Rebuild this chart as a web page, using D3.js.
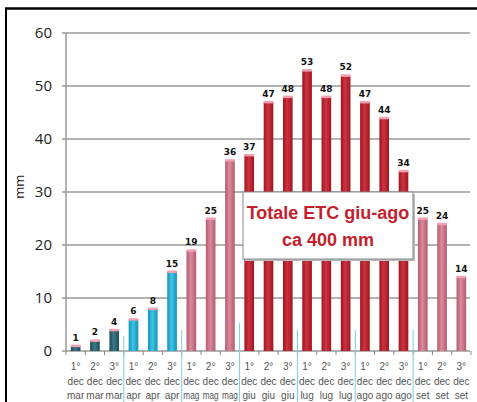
<!DOCTYPE html>
<html>
<head>
<meta charset="utf-8">
<script src="https://cdn.jsdelivr.net/npm/d3@7"></script>
<style>
  html, body { margin: 0; padding: 0; background: #fff; }
  svg { display: block; }
</style>
</head>
<body>
<script>
// Decade (dekad) crop water demand, mm
const decades = ["1°", "2°", "3°", "1°", "2°", "3°", "1°", "2°", "3°", "1°", "2°", "3°",
                 "1°", "2°", "3°", "1°", "2°", "3°", "1°", "2°", "3°"];
const months = ["mar", "mar", "mar", "apr", "apr", "apr", "mag", "mag", "mag", "giu", "giu", "giu",
                "lug", "lug", "lug", "ago", "ago", "ago", "set", "set", "set"];
const values = [1, 2, 4, 6, 8, 15, 19, 25, 36, 37, 47, 48, 53, 48, 52, 47, 44, 34, 25, 24, 14];
const yTicks = [0, 10, 20, 30, 40, 50, 60];
// Height (mm) reached by the separator lines between months
const monthSplits = [2.8, 4, 5.3, 4, 4, 4];

const monthColor = {
  mar: ["#1d4a5a", "#3d7888"],
  apr: ["#1293b8", "#3fc4e4"],
  mag: ["#b35a6e", "#d98b9b"],
  giu: ["#a3141f", "#c93440"],
  lug: ["#a3141f", "#c93440"],
  ago: ["#a3141f", "#c93440"],
  set: ["#b35a6e", "#d98b9b"]
};

const W = 477, H = 402;
const margin = { left: 66, right: 6, top: 33, bottom: 51 };

const svg = d3.select("body").append("svg").attr("width", W).attr("height", H);
const defs = svg.append("defs");

Object.keys(monthColor).forEach(m => {
  const [dark, light] = monthColor[m];
  const g = defs.append("linearGradient").attr("id", "g-" + m)
    .attr("x1", "0%").attr("x2", "100%").attr("y1", "0%").attr("y2", "0%");
  g.append("stop").attr("offset", "0%").attr("stop-color", dark);
  g.append("stop").attr("offset", "45%").attr("stop-color", light);
  g.append("stop").attr("offset", "100%").attr("stop-color", dark);
});

const x = d3.scaleBand().domain(d3.range(values.length))
  .range([margin.left, W - margin.right]).paddingInner(0.5).paddingOuter(0.25);
const y = d3.scaleLinear().domain([0, 60]).range([H - margin.bottom, margin.top]);

// frame
svg.append("line").attr("x1", 5).attr("x2", W).attr("y1", 8.5).attr("y2", 8.5)
  .attr("stroke", "#000").attr("stroke-width", 2.5);
svg.append("line").attr("x1", 6).attr("x2", 6).attr("y1", 8).attr("y2", H)
  .attr("stroke", "#000").attr("stroke-width", 2);

// grid
svg.append("g").selectAll("line").data(yTicks).join("line")
  .attr("x1", margin.left - 4).attr("x2", W - 7)
  .attr("y1", d => y(d)).attr("y2", d => y(d))
  .attr("stroke", "#9a9a9a").attr("stroke-width", 1.5);

// y axis line
svg.append("line").attr("x1", margin.left).attr("x2", margin.left)
  .attr("y1", y(60)).attr("y2", y(0)).attr("stroke", "#9a9a9a").attr("stroke-width", 1.5);

// y tick labels
svg.append("g").selectAll("text").data(yTicks).join("text")
  .attr("x", 52).attr("y", d => y(d)).attr("dy", "0.36em")
  .attr("text-anchor", "end")
  .attr("font-family", "Open Sans, Liberation Sans, sans-serif")
  .attr("font-size", 15).attr("fill", "#222")
  .text(d => d);

svg.append("text")
  .attr("transform", `translate(24,${y(31)}) rotate(-90)`)
  .attr("text-anchor", "middle")
  .attr("font-family", "Open Sans, Liberation Sans, sans-serif")
  .attr("font-size", 13).attr("fill", "#222")
  .text("mm");

// x axis ticks at band boundaries
const step = x.step();
const gap = step - x.bandwidth();
const bounds = d3.range(values.length + 1).map(i => x(0) - gap / 2 + i * step);
svg.append("g").selectAll("line").data(bounds).join("line")
  .attr("x1", d => d).attr("x2", d => d)
  .attr("y1", y(0)).attr("y2", y(0) + 4)
  .attr("stroke", "#888").attr("stroke-width", 1);

// month separators
const splitX = [3, 6, 9, 12, 15, 18].map(i => x(i) - gap / 2);
svg.append("g").selectAll("line").data(monthSplits).join("line")
  .attr("x1", (d, i) => splitX[i]).attr("x2", (d, i) => splitX[i])
  .attr("y1", d => y(d)).attr("y2", H)
  .attr("stroke", "#7ccde3").attr("stroke-width", 1);

// bars
const bars = svg.append("g");
bars.selectAll("rect.bar").data(values).join("rect").attr("class", "bar")
  .attr("x", (d, i) => x(i)).attr("width", x.bandwidth())
  .attr("y", d => y(d)).attr("height", d => y(0) - y(d))
  .attr("fill", (d, i) => `url(#g-${months[i]})`);
bars.selectAll("rect.cap").data(values).join("rect").attr("class", "cap")
  .attr("x", (d, i) => x(i)).attr("width", x.bandwidth())
  .attr("y", d => y(d) - 1).attr("height", 2.5)
  .attr("fill", "#f0a0b0");

// value labels
svg.append("g").selectAll("text").data(values).join("text")
  .attr("x", (d, i) => x(i) + x.bandwidth() / 2)
  .attr("y", d => y(d) - 5)
  .attr("text-anchor", "middle")
  .attr("font-family", "DejaVu Sans, sans-serif").attr("font-weight", "bold")
  .attr("font-size", 9).attr("fill", "#111")
  .text(d => d);

// category labels
const lab = svg.append("g").attr("font-family", "Liberation Sans, Arial, sans-serif")
  .attr("font-size", 10).attr("fill", "#555").attr("text-anchor", "middle");
values.forEach((v, i) => {
  const cx = x(i) + x.bandwidth() / 2;
  lab.append("text").attr("x", cx).attr("y", 370).text(decades[i]);
  lab.append("text").attr("x", cx).attr("y", 385).text("dec");
  lab.append("text").attr("x", cx).attr("y", 399).attr("textLength", months[i] === "mag" ? 16 : null)
    .attr("lengthAdjust", "spacingAndGlyphs").text(months[i]);
});

// note box
const box = svg.append("g");
box.append("rect").attr("x", 245).attr("y", 194).attr("width", 170).attr("height", 67)
  .attr("fill", "#bbb");
box.append("rect").attr("x", 243).attr("y", 192).attr("width", 170).attr("height", 67)
  .attr("fill", "#fff").attr("stroke", "#888").attr("stroke-width", 1);
box.append("text").attr("x", 328).attr("y", 219).attr("text-anchor", "middle")
  .attr("font-family", "Liberation Sans, Arial, sans-serif").attr("font-weight", "bold")
  .attr("font-size", 18).attr("fill", "#c4202c").text("Totale ETC giu-ago");
box.append("text").attr("x", 328).attr("y", 246).attr("text-anchor", "middle")
  .attr("font-family", "Liberation Sans, Arial, sans-serif").attr("font-weight", "bold")
  .attr("font-size", 18).attr("fill", "#c4202c").text("ca 400 mm");
</script>
</body>
</html>
